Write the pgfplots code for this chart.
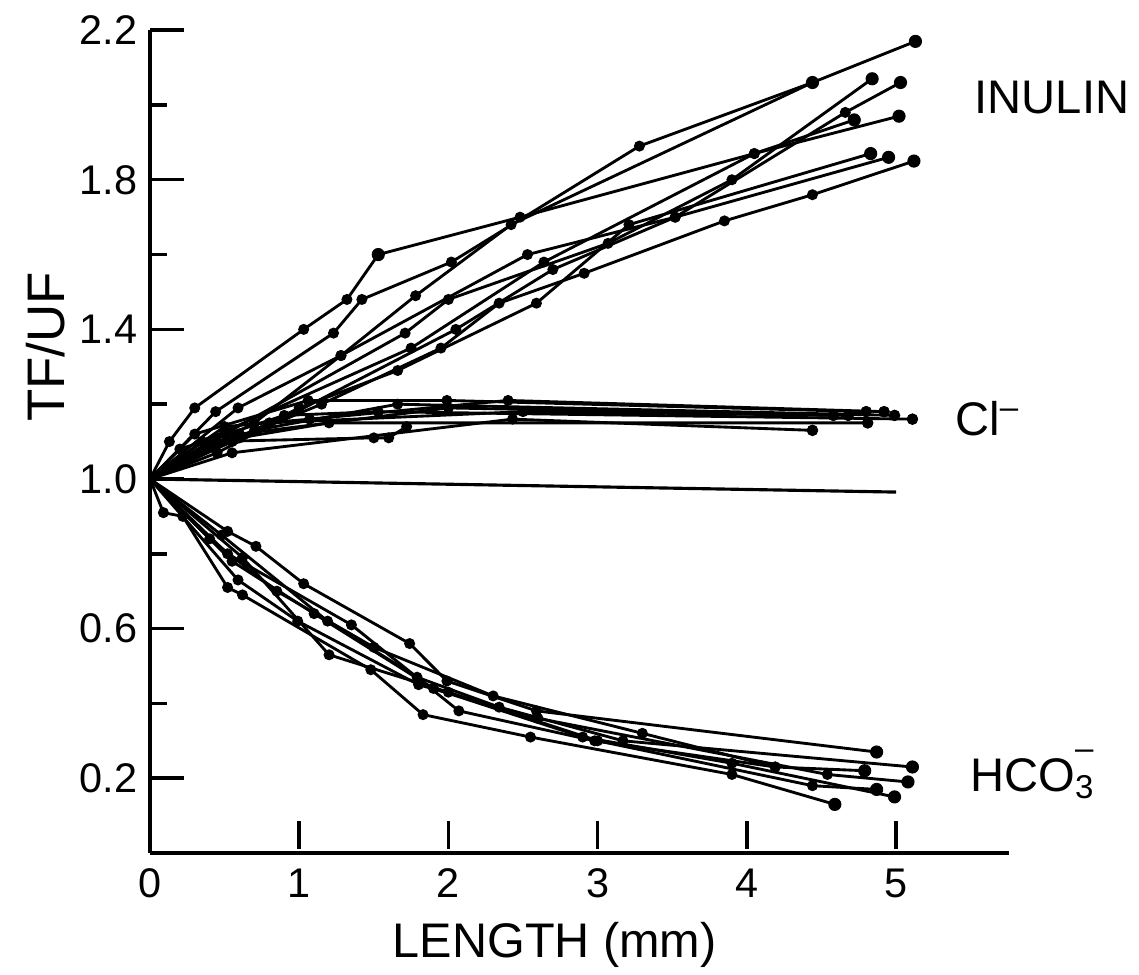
\documentclass[border=0pt]{standalone}
\usepackage{pgfplots}
\pgfplotsset{compat=1.18}
\usepackage{fontspec}
\setmainfont{Liberation Sans}
\begin{document}
\begin{tikzpicture}
\path[use as bounding box] (-52.5pt,-42.35pt) rectangle (346.15pt,298.55pt);
\begin{axis}[
  at={(0,0)}, anchor=south west,
  scale only axis, width=300.8pt, height=288pt,
  xmin=0, xmax=5.76, ymin=0, ymax=2.2,
  clip=false,
  axis lines=left,
  axis line style={-, line width=1.2pt},
  xtick={0,1,2,3,4,5},
  ytick={0.2,0.6,1.0,1.4,1.8,2.2},
  minor ytick={0.4,0.8,1.2,1.6,2.0},
  tick align=inside,
  major tick length=12pt, minor tick length=6pt,
  every tick/.style={line width=1.2pt, black},
  xtick style={draw=none},
  /pgf/number format/assume math mode=true,
  yticklabel style={/pgf/number format/fixed,/pgf/number format/fixed zerofill,/pgf/number format/precision=1},
  tick label style={font=\fontsize{14.5}{15}\selectfont},
  xticklabel style={yshift=-2pt},
  yticklabel style={xshift=-1pt},
  xlabel={LENGTH (mm)},
  ylabel={TF/UF},
  xlabel style={at={(axis description cs:0.471,-0.112)}, anchor=center, font=\fontsize{17}{17}\selectfont},
  ylabel style={at={(axis description cs:-0.122,0.615)}, anchor=center, font=\fontsize{18.5}{19}\selectfont},
  ser/.style={black, line width=1pt, mark=*, mark size=1.4pt, mark phase=2, mark options={solid}},
  endp/.style={black, only marks, mark=*, mark size=2.1pt},
  tk/.style={black, line width=1.2pt, mark=none},
]
% x tick marks (short vertical strokes just above the axis)
\addplot[tk] coordinates {(1,0.012)(1,0.085)};
\addplot[tk] coordinates {(2,0.012)(2,0.085)};
\addplot[tk] coordinates {(3,0.012)(3,0.085)};
\addplot[tk] coordinates {(4,0.012)(4,0.085)};
\addplot[tk] coordinates {(5,0.012)(5,0.085)};
% baseline
\addplot[black, line width=1.1pt] coordinates {(0,1.0)(5.0,0.965)};

% ---------------- INULIN ----------------
\addplot[ser] coordinates {(0,1.00)(0.13,1.10)(0.30,1.19)(1.03,1.40)(1.32,1.48)(1.53,1.60)(2.48,1.70)(4.05,1.87)(5.02,1.97)};
\addplot[ser] coordinates {(0,1.00)(0.44,1.18)(1.23,1.39)(1.42,1.48)(2.02,1.58)(3.28,1.89)(4.44,2.06)(5.13,2.17)};
\addplot[ser] coordinates {(0,1.00)(0.59,1.19)(1.28,1.33)(1.78,1.49)(2.42,1.68)(4.44,2.06)};
\addplot[ser] coordinates {(0,1.00)(0.50,1.12)(1.71,1.39)(2.00,1.48)(3.07,1.63)(3.90,1.80)(4.84,2.07)};
\addplot[ser] coordinates {(0,1.00)(0.70,1.15)(1.28,1.33)(2.53,1.60)(3.52,1.70)(4.66,1.98)(5.03,2.06)};
\addplot[ser] coordinates {(0,1.00)(0.35,1.10)(1.75,1.35)(2.64,1.58)(4.05,1.87)(4.72,1.96)};
\addplot[ser] coordinates {(0,1.00)(0.55,1.10)(1.00,1.19)(1.66,1.29)(2.59,1.47)(3.21,1.68)(4.83,1.87)};
\addplot[ser] coordinates {(0,1.00)(0.45,1.07)(2.05,1.40)(2.70,1.56)(3.52,1.70)(4.95,1.86)};
\addplot[ser] coordinates {(0,1.00)(0.60,1.11)(1.15,1.20)(1.95,1.35)(2.34,1.47)(2.91,1.55)(3.85,1.69)(4.44,1.76)(5.12,1.85)};
\addplot[endp] coordinates {(5.13,2.17)(4.44,2.06)(4.84,2.07)(5.03,2.06)(4.72,1.96)(5.02,1.97)(4.83,1.87)(4.95,1.86)(5.12,1.85)(1.53,1.60)};

% ---------------- Cl- ----------------
\addplot[ser] coordinates {(0,1.00)(0.55,1.07)(2.43,1.16)(4.44,1.13)};
\addplot[ser] coordinates {(0,1.00)(0.40,1.10)(1.50,1.11)(1.60,1.11)(1.72,1.14)};
\addplot[ser] coordinates {(0,1.00)(0.30,1.12)(1.06,1.21)(1.99,1.21)(4.80,1.18)};
\addplot[ser] coordinates {(0,1.00)(0.50,1.14)(1.07,1.16)(2.40,1.21)(4.92,1.18)};
\addplot[ser] coordinates {(0,1.00)(0.70,1.13)(1.66,1.20)(4.99,1.17)};
\addplot[ser] coordinates {(0,1.00)(0.20,1.08)(0.90,1.17)(1.53,1.18)(5.11,1.16)};
\addplot[ser] coordinates {(0,1.00)(0.60,1.12)(2.00,1.19)(4.58,1.17)};
\addplot[ser] coordinates {(0,1.00)(0.80,1.15)(2.50,1.18)(4.68,1.17)};
\addplot[ser] coordinates {(0,1.00)(0.45,1.10)(1.20,1.15)(4.81,1.15)};
\addplot[endp, mark size=1.8pt] coordinates {(4.44,1.13)(4.80,1.18)(4.92,1.18)(4.99,1.17)(5.11,1.16)(4.58,1.17)(4.68,1.17)(4.81,1.15)};

% ---------------- HCO3- ----------------
\addplot[ser] coordinates {(0,1.00)(0.09,0.91)(0.22,0.90)(0.52,0.71)(0.62,0.69)(1.48,0.49)(1.83,0.37)(2.55,0.31)(3.90,0.21)(4.59,0.13)};
\addplot[ser] coordinates {(0,1.00)(0.52,0.86)(0.71,0.82)(1.03,0.72)(1.74,0.56)(1.99,0.46)(2.59,0.38)(4.87,0.27)};
\addplot[ser] coordinates {(0,1.00)(0.48,0.85)(1.19,0.62)(1.79,0.47)(2.34,0.39)(3.17,0.30)(5.11,0.23)};
\addplot[ser] coordinates {(0,1.00)(0.52,0.80)(1.35,0.61)(2.07,0.38)(2.98,0.30)(4.19,0.23)(4.79,0.22)};
\addplot[ser] coordinates {(0,1.00)(0.59,0.73)(0.99,0.62)(1.80,0.45)(2.60,0.36)(4.54,0.21)(5.08,0.19)};
\addplot[ser] coordinates {(0,1.00)(0.62,0.79)(1.20,0.53)(2.00,0.43)(3.00,0.30)(4.44,0.18)(4.87,0.17)};
\addplot[ser] coordinates {(0,1.00)(0.55,0.78)(1.10,0.64)(1.90,0.44)(2.90,0.31)(3.90,0.24)(4.99,0.15)};
\addplot[ser] coordinates {(0,1.00)(0.40,0.84)(0.85,0.70)(1.50,0.55)(2.30,0.42)(3.30,0.32)(4.19,0.23)};
\addplot[endp] coordinates {(4.59,0.13)(4.87,0.27)(5.11,0.23)(4.79,0.22)(5.08,0.19)(4.87,0.17)(4.99,0.15)};

% labels
\node[anchor=west, font=\fontsize{16.5}{17}\selectfont] at (axis cs:5.46,2.02) {INULIN};
\node[anchor=west, font=\fontsize{16.5}{17}\selectfont] at (axis cs:5.33,1.16) {Cl\textsuperscript{--}};
\node[anchor=west, font=\fontsize{16.5}{17}\selectfont] at (axis cs:5.43,0.21) {HCO\rlap{\raisebox{0.55ex}{\textsuperscript{--}}}\textsubscript{3}};
\end{axis}
\end{tikzpicture}
\end{document}
